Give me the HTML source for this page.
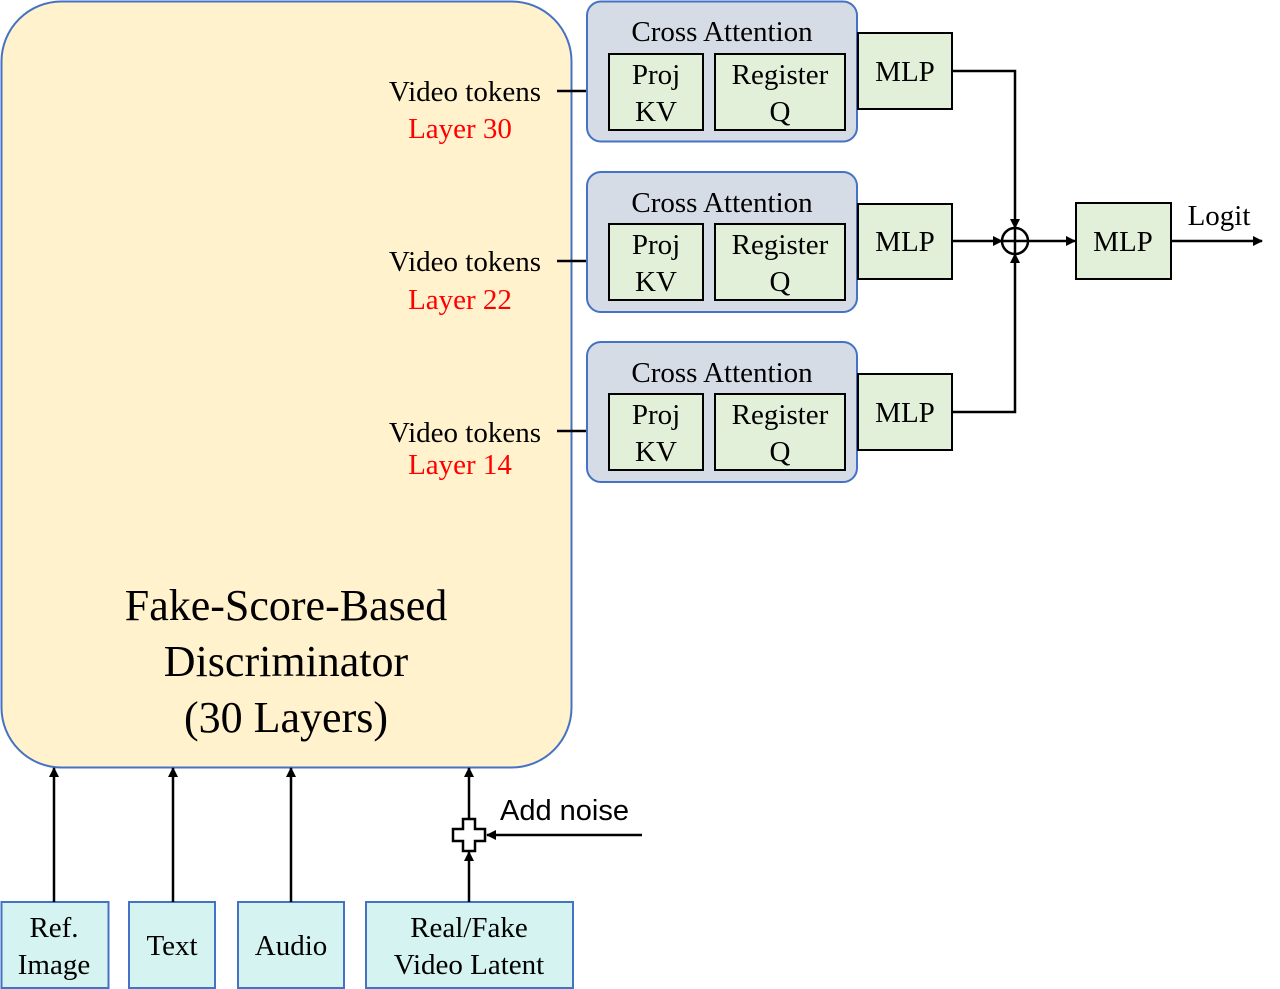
<!DOCTYPE html>
<html><head><meta charset="utf-8"><style>
html,body{margin:0;padding:0;background:#fff;}
svg{display:block;}
text{font-family:"Liberation Serif",serif;fill:#000;}
</style></head><body>
<svg width="1280" height="989" viewBox="0 0 1280 989" xmlns="http://www.w3.org/2000/svg">
<defs>
<marker id="a" markerWidth="10" markerHeight="10" refX="9" refY="5" orient="auto" markerUnits="userSpaceOnUse">
<path d="M0,0 L10,5 L0,10 Z" fill="#000"/></marker>
</defs>
<!-- main box -->
<rect x="1.5" y="1.5" width="570" height="766" rx="60" fill="#fff2cc" stroke="#4472c4" stroke-width="2"/>
<g font-size="44" text-anchor="middle">
<text x="286" y="620">Fake-Score-Based</text>
<text x="286" y="676">Discriminator</text>
<text x="286" y="732">(30 Layers)</text>
</g>
<!-- video tokens labels -->
<g font-size="29">
<text x="541" y="101" text-anchor="end">Video tokens</text>
<text x="460" y="138" text-anchor="middle" style="fill:#ff0000">Layer 30</text>
<text x="541" y="271" text-anchor="end">Video tokens</text>
<text x="460" y="309" text-anchor="middle" style="fill:#ff0000">Layer 22</text>
<text x="541" y="442" text-anchor="end">Video tokens</text>
<text x="460" y="474" text-anchor="middle" style="fill:#ff0000">Layer 14</text>
</g>
<g stroke="#000" stroke-width="2.5" fill="none">
<line x1="557" y1="91" x2="608" y2="91" marker-end="url(#a)"/>
<line x1="557" y1="261" x2="608" y2="261" marker-end="url(#a)"/>
<line x1="557" y1="431" x2="608" y2="431" marker-end="url(#a)"/>
</g>
<!-- cross attention blocks -->
<g font-size="29" text-anchor="middle">
<rect x="587" y="1.5" width="270" height="140" rx="14" fill="#d6dce5" stroke="#4472c4" stroke-width="2"/>
<text x="722" y="41">Cross Attention</text>
<rect x="609" y="54" width="94" height="76" fill="#e2f0d9" stroke="#000" stroke-width="2"/>
<text x="656" y="84">Proj</text><text x="656" y="121">KV</text>
<rect x="715" y="54" width="130" height="76" fill="#e2f0d9" stroke="#000" stroke-width="2"/>
<text x="780" y="84">Register</text><text x="780" y="121">Q</text>

<rect x="587" y="172" width="270" height="140" rx="14" fill="#d6dce5" stroke="#4472c4" stroke-width="2"/>
<text x="722" y="212">Cross Attention</text>
<rect x="609" y="224" width="94" height="76" fill="#e2f0d9" stroke="#000" stroke-width="2"/>
<text x="656" y="254">Proj</text><text x="656" y="291">KV</text>
<rect x="715" y="224" width="130" height="76" fill="#e2f0d9" stroke="#000" stroke-width="2"/>
<text x="780" y="254">Register</text><text x="780" y="291">Q</text>

<rect x="587" y="342" width="270" height="140" rx="14" fill="#d6dce5" stroke="#4472c4" stroke-width="2"/>
<text x="722" y="382">Cross Attention</text>
<rect x="609" y="394" width="94" height="76" fill="#e2f0d9" stroke="#000" stroke-width="2"/>
<text x="656" y="424">Proj</text><text x="656" y="461">KV</text>
<rect x="715" y="394" width="130" height="76" fill="#e2f0d9" stroke="#000" stroke-width="2"/>
<text x="780" y="424">Register</text><text x="780" y="461">Q</text>

<rect x="858" y="33" width="94" height="76" fill="#e2f0d9" stroke="#000" stroke-width="2"/>
<text x="905" y="81">MLP</text>
<rect x="858" y="204" width="94" height="75" fill="#e2f0d9" stroke="#000" stroke-width="2"/>
<text x="905" y="251">MLP</text>
<rect x="858" y="374" width="94" height="76" fill="#e2f0d9" stroke="#000" stroke-width="2"/>
<text x="905" y="422">MLP</text>
<rect x="1076" y="203" width="95" height="76" fill="#e2f0d9" stroke="#000" stroke-width="2"/>
<text x="1123" y="251">MLP</text>
<text x="1219" y="225">Logit</text>
</g>
<g stroke="#000" stroke-width="2.5" fill="none">
<polyline points="952,71 1015,71 1015,228" marker-end="url(#a)"/>
<polyline points="952,412 1015,412 1015,254" marker-end="url(#a)"/>
<line x1="952" y1="241" x2="1002" y2="241" marker-end="url(#a)"/>
<circle cx="1015" cy="241" r="13" fill="#fff"/>
<line x1="1002" y1="241" x2="1028" y2="241"/>
<line x1="1015" y1="228" x2="1015" y2="254"/>
<line x1="1028" y1="241" x2="1075" y2="241" marker-end="url(#a)"/>
<line x1="1171" y1="241" x2="1262" y2="241" marker-end="url(#a)"/>
</g>
<!-- bottom inputs -->
<g font-size="29" text-anchor="middle">
<rect x="1.5" y="902" width="107" height="86" fill="#d5f3f0" stroke="#4472c4" stroke-width="2"/>
<text x="54" y="937">Ref.</text><text x="54" y="974">Image</text>
<rect x="129" y="902" width="86" height="86" fill="#d5f3f0" stroke="#4472c4" stroke-width="2"/>
<text x="172" y="955">Text</text>
<rect x="238" y="902" width="106" height="86" fill="#d5f3f0" stroke="#4472c4" stroke-width="2"/>
<text x="291" y="955">Audio</text>
<rect x="366" y="902" width="207" height="86" fill="#d5f3f0" stroke="#4472c4" stroke-width="2"/>
<text x="469" y="937">Real/Fake</text><text x="469" y="974">Video Latent</text>
</g>
<g stroke="#000" stroke-width="2.5" fill="none">
<line x1="54" y1="902" x2="54" y2="768" marker-end="url(#a)"/>
<line x1="173" y1="902" x2="173" y2="768" marker-end="url(#a)"/>
<line x1="291" y1="902" x2="291" y2="768" marker-end="url(#a)"/>
<line x1="469" y1="902" x2="469" y2="852" marker-end="url(#a)"/>
<line x1="469" y1="819" x2="469" y2="768" marker-end="url(#a)"/>
<line x1="642" y1="835" x2="487" y2="835" marker-end="url(#a)"/>
<path d="M463,819 h12 v10 h10 v12 h-10 v10 h-12 v-10 h-10 v-12 h10 Z" fill="#fff"/>
</g>
<text x="500" y="820" font-size="29" style="font-family:'Liberation Sans',sans-serif">Add noise</text>
</svg>
</body></html>
